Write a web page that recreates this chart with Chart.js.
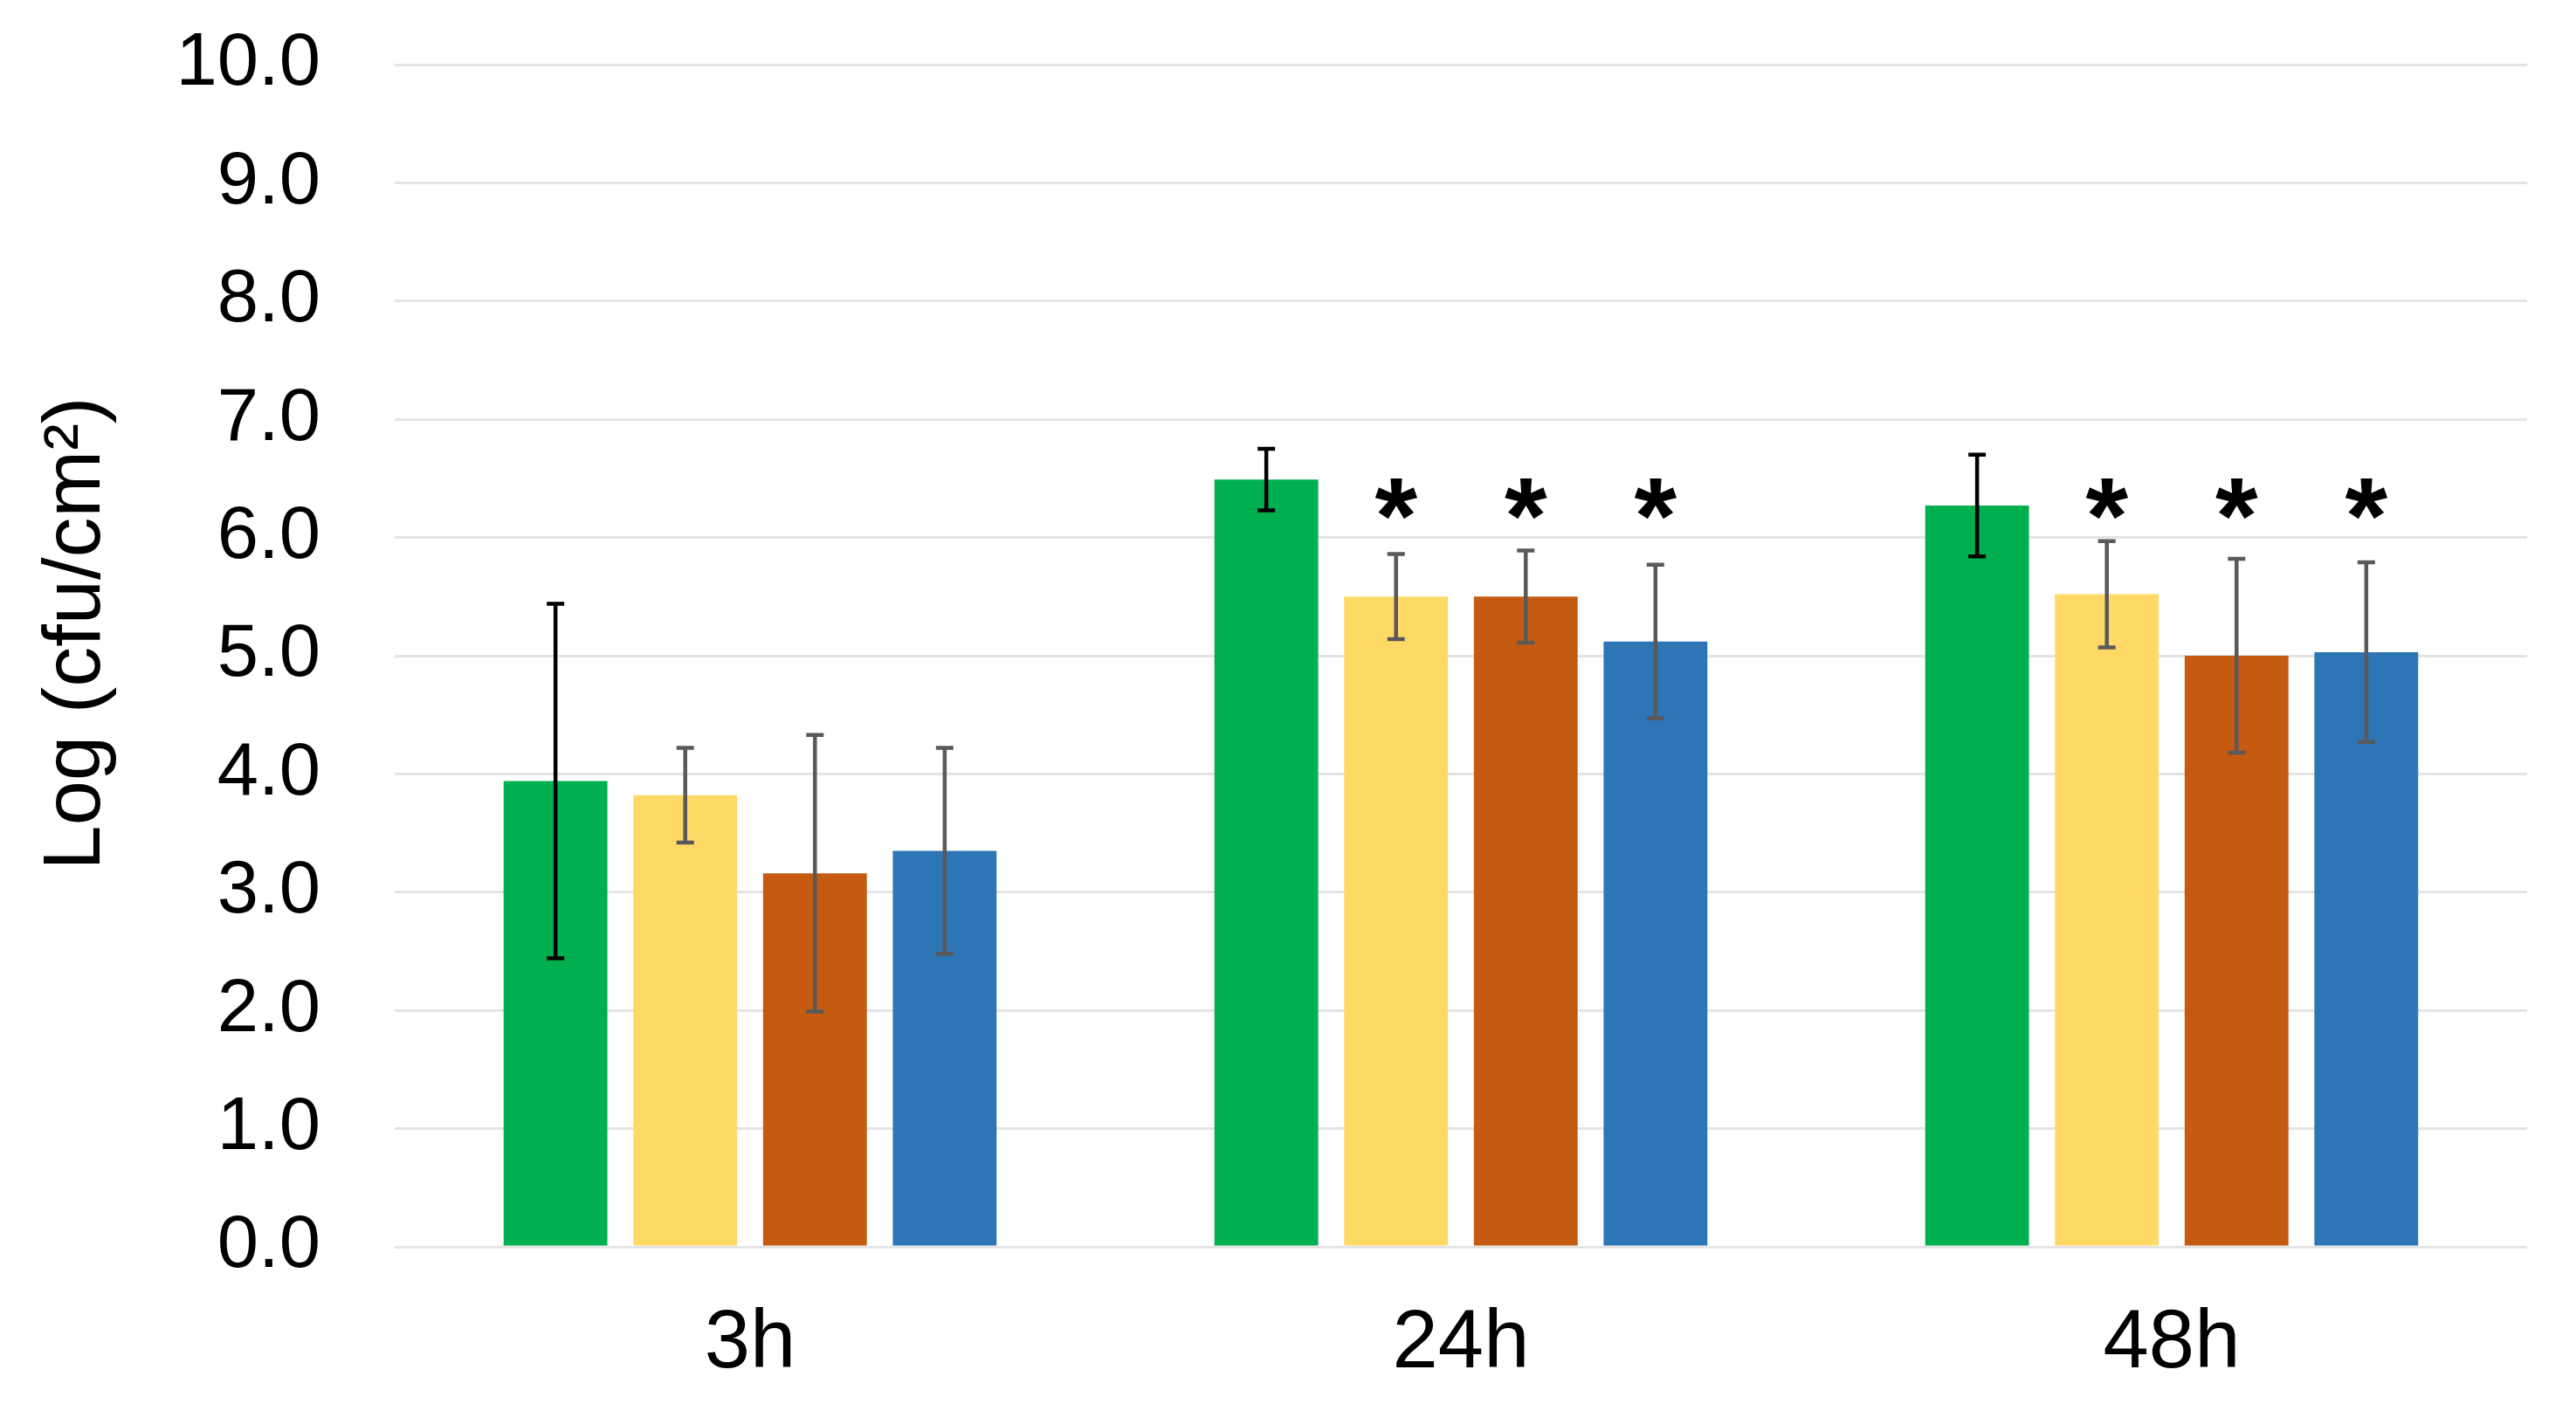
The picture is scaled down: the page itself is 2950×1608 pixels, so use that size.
<!DOCTYPE html>
<html>
<head>
<meta charset="utf-8">
<script src="https://cdn.jsdelivr.net/npm/chart.js@4.4.1/dist/chart.umd.min.js"></script>
<style>
  html, body { margin: 0; padding: 0; background: #fff; }
  #wrap { width: 2950px; height: 1608px; }
</style>
</head>
<body>
<div id="wrap"><canvas id="myChart" width="2950" height="1608"></canvas></div>
<script>
// categories and series
var timePoints = ['3h', '24h', '48h'];
var seriesNames = ['Series 1', 'Series 2', 'Series 3', 'Series 4'];
var seriesColors = ['#00B050', '#FFD966', '#C55A11', '#2E75B6'];
var errColors = ['#000000', '#595959', '#595959', '#595959'];

var s1 = [3.94, 6.49, 6.27];
var s2 = [3.82, 5.50, 5.52];
var s3 = [3.16, 5.50, 5.00];
var s4 = [3.35, 5.12, 5.03];

// error (±)
var e1 = [1.50, 0.26, 0.43];
var e2 = [0.40, 0.36, 0.45];
var e3 = [1.17, 0.39, 0.82];
var e4 = [0.87, 0.65, 0.76];

// significance marks (*), drawn at this y value
var star1 = [false, false, false];
var star2 = [false, true, true];
var star3 = [false, true, true];
var star4 = [false, true, true];
var starLevel = 6.3;

var yTicks = [0, 1, 2, 3, 4, 5, 6, 7, 8, 9, 10];

var values = [s1, s2, s3, s4];
var errors = [e1, e2, e3, e4];
var stars = [star1, star2, star3, star4];

var FONT = '"Liberation Sans", Arial, sans-serif';

// 에러바 + 별표 그리기
var errorBarPlugin = {
    id: 'errorBars',
    afterDatasetsDraw: function(chart) {
        var ctx = chart.ctx;
        var y = chart.scales.y;
        chart.data.datasets.forEach(function(ds, di) {
            var meta = chart.getDatasetMeta(di);
            meta.data.forEach(function(bar, i) {
                var v = values[di][i];
                var e = errors[di][i];
                var top = y.getPixelForValue(v + e);
                var bot = y.getPixelForValue(v - e);
                ctx.save();
                ctx.strokeStyle = errColors[di];
                ctx.lineWidth = 4.5;
                ctx.beginPath();
                ctx.moveTo(bar.x, top);
                ctx.lineTo(bar.x, bot);
                ctx.moveTo(bar.x - 10, top);
                ctx.lineTo(bar.x + 10, top);
                ctx.moveTo(bar.x - 10, bot);
                ctx.lineTo(bar.x + 10, bot);
                ctx.stroke();
                if (stars[di][i]) {
                    ctx.fillStyle = '#000';
                    ctx.font = 'bold 125px ' + FONT;
                    ctx.textAlign = 'center';
                    ctx.textBaseline = 'alphabetic';
                    ctx.fillText('*', bar.x, y.getPixelForValue(starLevel) + 59);
                }
                ctx.restore();
            });
        });
    }
};

var ctx = document.getElementById('myChart').getContext('2d');
var myChart = new Chart(ctx, {
    type: 'bar',
    data: {
        labels: timePoints,
        datasets: seriesNames.map(function(name, i) {
            return {
                label: name,
                data: values[i],
                backgroundColor: seriesColors[i],
                borderWidth: 0,
                categoryPercentage: 0.73,
                barPercentage: 0.80
            };
        })
    },
    options: {
        responsive: false,
        animation: false,
        devicePixelRatio: 1,
        layout: { padding: { top: 74, right: 56, bottom: 0, left: 0 } },
        plugins: {
            legend: { display: false },
            tooltip: { enabled: false }
        },
        scales: {
            x: {
                grid: { display: false, drawTicks: false },
                border: { display: false },
                ticks: {
                    color: '#000',
                    font: { family: FONT, size: 94 },
                    padding: 56
                },
                afterFit: function(scale) { scale.height = 180; }
            },
            y: {
                min: 0,
                max: 10,
                afterBuildTicks: function(scale) {
                    scale.ticks = yTicks.map(function(v) { return { value: v }; });
                },
                grid: { color: '#e4e4e4', lineWidth: 3, drawTicks: false },
                border: { display: false },
                ticks: {
                    color: '#000',
                    font: { family: FONT, size: 85 },
                    padding: 85,
                    callback: function(v) { return Number(v).toFixed(1); }
                },
                title: {
                    display: true,
                    text: '  Log (cfu/cm²)',
                    color: '#000',
                    font: { family: FONT, size: 92 },
                    padding: { top: 33, bottom: 0 }
                },
                afterFit: function(scale) {
                    scale.width = 452;
                    // tick padding은 위/아래 여백에 더해지므로 여기서 줄여줌
                    scale.paddingTop = 30;
                    scale.paddingBottom = 30;
                }
            }
        }
    },
    plugins: [errorBarPlugin]
});
</script>
</body>
</html>
